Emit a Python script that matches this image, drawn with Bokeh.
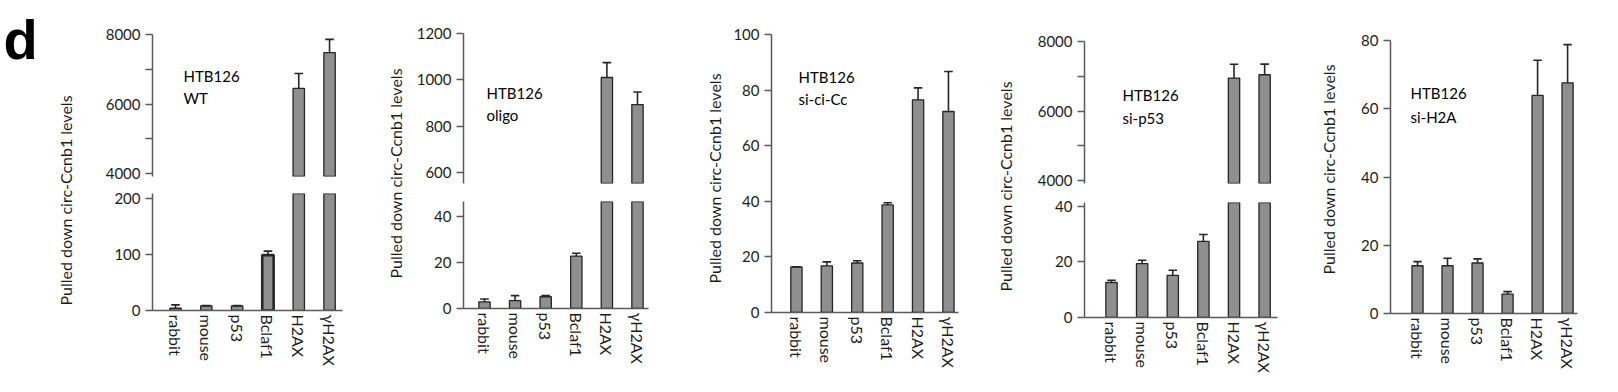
import math
from bokeh.plotting import figure
from bokeh.models import Range1d, FixedTicker, Label, ColumnDataSource
from bokeh.layouts import row, column
from bokeh.embed import file_html
from bokeh.resources import INLINE

# ---------------- data ----------------
categories = ["rabbit", "mouse", "p53", "Bclaf1", "H2AX", "γH2AX"]
cell_line = "HTB126"
conditions = ["WT", "oligo", "si-ci-Cc", "si-p53", "si-H2A"]
y_label = "Pulled down circ-Ccnb1 levels"
panel_letter = "d"

wt_mean = [4, 8, 8, 99, 6450, 7480]
wt_err = [6, 1, 1, 7, 430, 380]
oligo_mean = [2.9, 3.4, 5.1, 22.8, 1010, 893]
oligo_err = [1.2, 2.2, 0.5, 1.2, 64, 54]
sicicc_mean = [16.4, 16.8, 17.8, 38.7, 76.5, 72.3]
sicicc_err = [0.0, 1.4, 0.8, 0.8, 4.3, 14.4]
sip53_mean = [12.6, 19.4, 15.2, 27.4, 6947, 7043]
sip53_err = [0.8, 1.2, 1.8, 2.5, 400, 306]
sih2a_mean = [14.0, 14.0, 14.8, 5.7, 63.9, 67.6]
sih2a_err = [1.2, 2.2, 1.2, 0.7, 10.3, 11.2]

wt_ticks_upper = [4000, 5000, 6000, 7000, 8000]
wt_labels_upper = [4000, 6000, 8000]
wt_ticks_lower = [0, 100, 200]
oligo_ticks_upper = [600, 800, 1000, 1200]
oligo_ticks_lower = [0, 20, 40]
sicicc_ticks = [0, 20, 40, 60, 80, 100]
sip53_ticks_upper = [4000, 5000, 6000, 7000, 8000]
sip53_labels_upper = [4000, 6000, 8000]
sip53_ticks_lower = [0, 20, 40]
sih2a_ticks = [0, 20, 40, 60, 80]

# ---------------- style ----------------
FONT = "Lato"
BAR_FILL = "#8f8f8f"
BAR_LINE = "#262626"
AXIS = "#5a5a5a"
TXT = "#1c1c1c"
TOTAL_H = 380
PAGE_X0, PAGE_Y0 = 0, 0
xs = list(range(1, len(categories) + 1))


def style_yaxis(p, ticks, shown=None):
    ya = p.yaxis[0]
    ya.ticker = FixedTicker(ticks=ticks)
    if shown is not None:
        ya.major_label_overrides = {t: (str(t) if t in shown else "") for t in ticks}
    ya.axis_line_color = AXIS
    ya.axis_line_width = 1.5
    ya.major_tick_line_color = AXIS
    ya.major_tick_line_width = 1.5
    ya.major_tick_out = 7
    ya.major_tick_in = 0
    ya.minor_tick_out = 0
    ya.minor_tick_in = 0
    ya.major_label_standoff = 5
    ya.major_label_text_font = FONT
    ya.major_label_text_font_size = "15px"
    ya.major_label_text_color = TXT


def style_xaxis(p):
    xa = p.xaxis[0]
    xa.ticker = FixedTicker(ticks=xs)
    xa.major_label_overrides = {x: c for x, c in zip(xs, categories)}
    xa.major_label_orientation = "vertical"
    xa.axis_line_color = AXIS
    xa.axis_line_width = 1.5
    xa.major_tick_out = 0
    xa.major_tick_in = 0
    xa.minor_tick_out = 0
    xa.minor_tick_in = 0
    xa.major_label_standoff = 4
    xa.major_label_text_font = FONT
    xa.major_label_text_font_size = "16px"
    xa.major_label_text_color = TXT


def make_fig(width, height, xr, yr, mb, show_x):
    p = figure(width=width, height=height,
               x_range=Range1d(*xr), y_range=Range1d(*yr),
               output_backend="svg", toolbar_location=None,
               x_axis_location="below" if show_x else None,
               min_border_left=mb[0], min_border_right=mb[1],
               min_border_top=mb[2], min_border_bottom=mb[3])
    p.frame_align = False
    p.outline_line_color = None
    p.grid.visible = False
    p.background_fill_color = "white"
    p.border_fill_color = "white"
    return p


def draw_bars(p, mean, err, yr, part, thick_idx=None):
    span = yr[1] - yr[0]
    over = span * 0.05
    idx = list(range(len(mean)))
    if part == "upper":
        idx = [i for i in idx if mean[i] > yr[0]]
        bottoms = [yr[0] - over for i in idx]
        tops = [mean[i] for i in idx]
    else:
        bottoms = [0 for i in idx]
        tops = [min(mean[i], yr[1] + over) for i in idx]
    bx = [xs[i] for i in idx]
    lw = [2.6 if i == thick_idx else 1.3 for i in idx]
    src = ColumnDataSource(dict(x=bx, top=tops, bottom=bottoms, lw=lw))
    p.vbar(x="x", top="top", bottom="bottom", width=0.37, source=src,
           fill_color=BAR_FILL, line_color=BAR_LINE, line_width="lw")
    eidx = [i for i in idx if yr[0] < mean[i] <= yr[1]]
    ex = [xs[i] for i in eidx]
    em = [mean[i] for i in eidx]
    et = [mean[i] + err[i] for i in eidx]
    p.segment(x0=ex, y0=em, x1=ex, y1=et, line_color=BAR_LINE, line_width=1.6)
    p.segment(x0=[x - 0.14 for x in ex], y0=et, x1=[x + 0.14 for x in ex], y1=et,
              line_color=BAR_LINE, line_width=1.6)


def to_data(fig_info, px, py):
    cx, cy, w, h, mb, xr, yr = fig_info
    fx0 = cx + mb[0]
    fw = w - mb[0] - mb[1]
    fy0 = cy + mb[2]
    fh = h - mb[2] - mb[3]
    dx = xr[0] + (px - fx0) / fw * (xr[1] - xr[0])
    dy = yr[1] - (py - fy0) / fh * (yr[1] - yr[0])
    return dx, dy


def add_text(p, info, px, py, text):
    dx, dy = to_data(info, px, py)
    p.add_layout(Label(x=dx, y=dy, text=text, text_font=FONT, text_font_size="15px",
                       text_color="black", text_align="left", text_baseline="alphabetic"))


def label_fig(width, lx, ly, letter=False):
    p = figure(width=width, height=TOTAL_H, x_range=Range1d(0, width), y_range=Range1d(TOTAL_H, 0),
               output_backend="svg", toolbar_location=None,
               x_axis_location=None, y_axis_location=None, min_border=0)
    p.frame_align = False
    p.outline_line_color = None
    p.grid.visible = False
    p.add_layout(Label(x=lx, y=ly, text=y_label, angle=math.pi / 2, text_font=FONT,
                       text_font_size="16px", text_color=TXT,
                       text_align="center", text_baseline="middle"))
    if letter:
        p.add_layout(Label(x=3, y=39, text=panel_letter, text_font="Liberation Sans",
                           text_font_style="bold", text_font_size="56px", text_color="black",
                           text_align="left", text_baseline="alphabetic"))
    return p


panels = [
    dict(lab_w=92, lab_x=65, lab_y=200, letter=True, fig_w=268, mbl=60, mbr=18, xr=(0.253, 6.42),
         mean=wt_mean, err=wt_err, thick=3,
         upper=dict(h=184, mbt=34, mbb=8, yr=(3920, 8000), ticks=wt_ticks_upper, shown=wt_labels_upper),
         lower=dict(h=196, mbt=9, mbb=70, yr=(0, 209), ticks=wt_ticks_lower),
         text=[(183, 75), (183, 97)]),
    dict(lab_w=48, lab_x=35, lab_y=173, letter=False, fig_w=262, mbl=55, mbr=22, xr=(0.314, 6.36),
         mean=oligo_mean, err=oligo_err, thick=None,
         upper=dict(h=192, mbt=33, mbb=9, yr=(552, 1200), ticks=oligo_ticks_upper, shown=None),
         lower=dict(h=188, mbt=9, mbb=72, yr=(0, 46.5), ticks=oligo_ticks_lower),
         text=[(486, 92), (486, 114)]),
    dict(lab_w=56, lab_x=44, lab_y=178, letter=False, fig_w=254, mbl=45, mbr=22, xr=(0.18, 6.33),
         mean=sicicc_mean, err=sicicc_err, thick=None,
         single=dict(h=380, mbt=34, mbb=68, yr=(0, 100), ticks=sicicc_ticks),
         text=[(798, 76), (798, 98)]),
    dict(lab_w=44, lab_x=25, lab_y=186, letter=False, fig_w=276, mbl=60, mbr=23, xr=(0.118, 6.42),
         mean=sip53_mean, err=sip53_err, thick=None,
         upper=dict(h=192, mbt=41, mbb=9, yr=(3914, 8000), ticks=sip53_ticks_upper, shown=sip53_labels_upper),
         lower=dict(h=188, mbt=10, mbb=63, yr=(0, 41.4), ticks=sip53_ticks_lower),
         text=[(1122, 94), (1122, 117)]),
    dict(lab_w=42, lab_x=28, lab_y=169, letter=False, fig_w=260, mbl=48, mbr=25, xr=(0.1, 6.33),
         mean=sih2a_mean, err=sih2a_err, thick=None,
         single=dict(h=380, mbt=40, mbb=67, yr=(0, 80), ticks=sih2a_ticks),
         text=[(1410, 92), (1410, 116)]),
]

children = []
cursor_x = PAGE_X0
for cond, spec in zip(conditions, panels):
    children.append(label_fig(spec["lab_w"], spec["lab_x"], spec["lab_y"], spec["letter"]))
    cursor_x += spec["lab_w"]
    cx = cursor_x
    if "single" in spec:
        s = spec["single"]
        mb = (spec["mbl"], spec["mbr"], s["mbt"], s["mbb"])
        p = make_fig(spec["fig_w"], s["h"], spec["xr"], s["yr"], mb, True)
        style_yaxis(p, s["ticks"])
        style_xaxis(p)
        draw_bars(p, spec["mean"], spec["err"], s["yr"], "single", spec["thick"])
        info = (cx, PAGE_Y0, spec["fig_w"], s["h"], mb, spec["xr"], s["yr"])
        add_text(p, info, spec["text"][0][0], spec["text"][0][1], cell_line)
        add_text(p, info, spec["text"][1][0], spec["text"][1][1], cond)
        children.append(p)
    else:
        u, l = spec["upper"], spec["lower"]
        mbu = (spec["mbl"], spec["mbr"], u["mbt"], u["mbb"])
        mbl_ = (spec["mbl"], spec["mbr"], l["mbt"], l["mbb"])
        pu = make_fig(spec["fig_w"], u["h"], spec["xr"], u["yr"], mbu, False)
        pl = make_fig(spec["fig_w"], l["h"], spec["xr"], l["yr"], mbl_, True)
        style_yaxis(pu, u["ticks"], u["shown"])
        style_yaxis(pl, l["ticks"])
        style_xaxis(pl)
        draw_bars(pu, spec["mean"], spec["err"], u["yr"], "upper", spec["thick"])
        draw_bars(pl, spec["mean"], spec["err"], l["yr"], "lower", spec["thick"])
        info = (cx, PAGE_Y0, spec["fig_w"], u["h"], mbu, spec["xr"], u["yr"])
        add_text(pu, info, spec["text"][0][0], spec["text"][0][1], cell_line)
        add_text(pu, info, spec["text"][1][0], spec["text"][1][1], cond)
        children.append(column(pu, pl, spacing=0))
    cursor_x += spec["fig_w"]

layout = row(*children, spacing=0)

with open("out.html", "w") as f:
    f.write(file_html(layout, INLINE))
